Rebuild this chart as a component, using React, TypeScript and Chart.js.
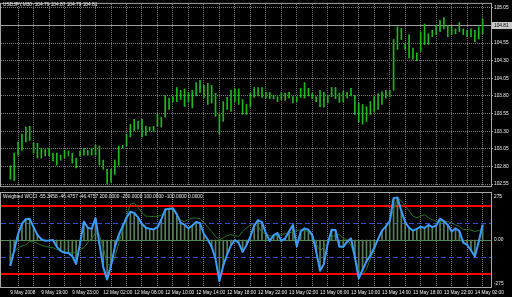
import React, { useEffect, useRef } from 'react';
import { Chart, registerables } from 'chart.js';

Chart.register(...registerables);

// ---------- data ----------
const priceTitle = 'USDJPY,M30  104.79 104.87 104.79 104.81';
const cciTitle = 'Weighted WCCI -55.3458 -46.4757 -46.4757 200.0000 -200.0000 100.0000 -100.0000 0.0000';

const timeLabels = [
  '9 May 2008', '9 May 19:00', '9 May 23:00', '12 May 02:00', '12 May 06:00', '12 May 10:00',
  '12 May 14:00', '12 May 18:00', '12 May 22:00', '13 May 02:00', '13 May 06:00', '13 May 10:00',
  '13 May 14:00', '13 May 18:00', '13 May 22:00', '14 May 02:00',
];

const priceTicks = [102.55, 102.8, 103.05, 103.3, 103.55, 103.8, 104.05, 104.3, 104.55, 104.8, 105.05];
const currentPrice = 104.81;

const barHigh = [
  102.81, 102.99, 103.15, 103.26, 103.36, 103.37, 103.13, 103.13, 103.06, 103.04,
  103.06, 102.99, 102.99, 102.96, 103.03, 103.02, 102.99, 102.92, 103.02, 103.06,
  103.03, 103.06, 103.10, 103.09, 102.89, 102.76, 102.76, 102.89, 103.09, 103.10,
  103.26, 103.40, 103.47, 103.44, 103.47, 103.37, 103.36, 103.37, 103.54, 103.50,
  103.81, 103.77, 103.79, 103.92, 103.88, 103.90, 103.85, 103.88, 103.99, 104.02,
  103.95, 103.98, 103.95, 103.84, 103.54, 103.72, 103.78, 103.88, 103.90, 103.90,
  103.75, 103.68, 103.84, 103.92, 103.92, 103.92, 103.85, 103.85, 103.81, 103.79,
  103.85, 103.84, 103.85, 103.79, 103.79, 103.91, 103.99, 103.91, 103.84, 103.79,
  103.88, 103.85, 103.81, 103.92, 103.92, 103.84, 103.87, 103.85, 103.91, 103.81,
  103.70, 103.68, 103.65, 103.72, 103.79, 103.83, 103.86, 103.88, 103.88, 104.60,
  104.78, 104.76, 104.54, 104.67, 104.48, 104.41, 104.71, 104.82, 104.68, 104.73,
  104.80, 104.87, 104.91, 104.80, 104.78, 104.75, 104.84, 104.75, 104.73, 104.75,
  104.73, 104.78, 104.89,
];

const barLow = [
  102.62, 102.60, 102.96, 103.03, 103.15, 103.17, 102.99, 102.92, 102.92, 102.95,
  102.95, 102.88, 102.82, 102.89, 102.92, 102.95, 102.85, 102.78, 102.95, 102.96,
  102.96, 102.96, 102.96, 102.82, 102.76, 102.55, 102.58, 102.69, 102.82, 103.06,
  103.09, 103.22, 103.31, 103.33, 103.22, 103.24, 103.31, 103.29, 103.37, 103.36,
  103.50, 103.61, 103.72, 103.72, 103.75, 103.65, 103.72, 103.63, 103.80, 103.85,
  103.78, 103.68, 103.70, 103.51, 103.26, 103.44, 103.61, 103.58, 103.72, 103.68,
  103.54, 103.54, 103.64, 103.78, 103.80, 103.78, 103.77, 103.76, 103.76, 103.72,
  103.75, 103.74, 103.77, 103.70, 103.72, 103.78, 103.77, 103.80, 103.76, 103.72,
  103.65, 103.64, 103.70, 103.79, 103.76, 103.71, 103.72, 103.77, 103.80, 103.54,
  103.43, 103.40, 103.44, 103.54, 103.58, 103.61, 103.68, 103.77, 103.79, 103.88,
  104.46, 104.60, 104.46, 104.34, 104.32, 104.30, 104.43, 104.53, 104.53, 104.64,
  104.67, 104.71, 104.75, 104.64, 104.67, 104.68, 104.71, 104.67, 104.64, 104.64,
  104.57, 104.61, 104.68,
];

const wcci = [
  -150, -60, 35, 95, 122, 124, 75, 30, 5, -5,
  -3, 0, -40, -64, -75, -76, -95, -140, -20, 108,
  72, 65, 128, -20, -160, -231, -150, -40, 30, 80,
  130, 165, 158, 132, 95, 72, 66, 62, 75, 120,
  178, 183, 185, 150, 100, 90, 68, 85, 106, 98,
  35, 2, -40, -110, -240, -150, -85, -30, 0, -18,
  -70, -30, 20, 85, 116, 105, 40, -5, 28, 40,
  -5, 10, 50, 88, -37, 50, 68, 60, 30, -66,
  -180, -140, -20, 60, 58, -40, -40, -10, 10, -100,
  -225, -175, -125, -90, -45, 5, 55, 80, 110, 245,
  248, 170, 105, 72, 55, 65, 78, 70, 88, 75,
  85, 125, 110, 88, 50, 68, 52, -15, -28, -60,
  -96, -10, 89,
];

const wcciSlow = [
  -96, -70, -45, -35, -27, -10, -10, -20, -30, -37,
  -42, -45, -55, -65, -74, -75, -74, -70, -55, -45,
  -15, 10, 40, 30, -45, -140, -150, -100, -20, 60,
  140, 210, 217, 190, 160, 140, 138, 138, 138, 145,
  170, 185, 185, 150, 115, 108, 120, 128, 128, 125,
  101, 75, 50, 20, 2, 12, 25, 31, 25, 21,
  50, 70, 89, 88, 80, 45, 35, 25, 21, 28,
  31, 38, 41, 48, 55, 60, 55, 50, 20, -20,
  -66, -40, -17, 15, 31, 31, 10, 2, -30, -100,
  -180, -200, -173, -110, -60, 12, 50, 80, 110, 180,
  245, 230, 200, 170, 140, 130, 140, 148, 130, 118,
  110, 108, 108, 108, 100, 89, 80, 62, 60, 58,
  50, 55, 70,
];

const redLevels = [200, -200];
const blueLevels = [100, -100];
const zeroLevel = [0];
const cciAxisLabels = [275, 0, -275];

// ---------- axis ranges ----------
const X_MIN = -0.375;
const X_MAX = 122.125;
const P_MIN = 102.5225;
const P_MAX = 105.105;
const C_MIN = -275;
const C_MAX = 275;

const gridTicks: number[] = [];
for (let i = 0; i <= 120; i += 4) gridTicks.push(i);

// ---------- styles ----------
const FAMILY = '"Liberation Sans", Arial, sans-serif';
const FS = 4.8;
const TEXT = '#f0f0f0';
const GRID = '#7c7c7c';
const FRAME = '#a8a8a8';
const BAR = '#1cb81c';

Chart.defaults.font.family = FAMILY;

function xScale(showLabels: boolean): any {
  return {
    type: 'linear',
    min: X_MIN,
    max: X_MAX,
    afterBuildTicks: (s: any) => {
      s.ticks = gridTicks.map((v) => ({ value: v }));
    },
    afterFit: (s: any) => {
      s.height = showLabels ? 10 : 0;
      s.paddingLeft = 0;
      s.paddingRight = 0;
    },
    ticks: {
      display: showLabels,
      autoSkip: false,
      maxRotation: 0,
      minRotation: 0,
      align: 'start',
      padding: 2.5,
      color: TEXT,
      font: { family: FAMILY, size: FS },
      callback: (v: number) => (v % 8 === 0 ? timeLabels[v / 8] ?? '' : ''),
    },
    grid: {
      color: (ctx: any) => (ctx.tick && ctx.tick.value === 0 ? 'rgba(0,0,0,0)' : GRID),
      drawTicks: false,
      lineWidth: 1,
    },
    border: { display: false, dash: [1, 1] },
  };
}

function drawFrame(chart: any) {
  const { ctx, chartArea: a } = chart;
  ctx.save();
  ctx.strokeStyle = FRAME;
  ctx.lineWidth = 1;
  ctx.strokeRect(a.left - 0.5, a.top - 0.5, a.right - a.left + 1, a.bottom - a.top + 1);
  ctx.restore();
}

function drawTitle(chart: any, text: string, y: number) {
  const { ctx } = chart;
  ctx.save();
  ctx.fillStyle = TEXT;
  ctx.font = `${FS}px ${FAMILY}`;
  ctx.textBaseline = 'middle';
  ctx.textAlign = 'left';
  ctx.fillText(text, 3, y);
  ctx.restore();
}

const topPlugin = {
  id: 'mtTop',
  beforeDatasetsDraw(chart: any) {
    const { ctx, chartArea: a, scales } = chart;
    const y = Math.round(scales.y.getPixelForValue(currentPrice)) + 0.5;
    ctx.save();
    ctx.strokeStyle = '#a0a0a0';
    ctx.lineWidth = 1;
    ctx.beginPath();
    ctx.moveTo(a.left, y);
    ctx.lineTo(a.right, y);
    ctx.stroke();
    ctx.restore();
  },
  afterDraw(chart: any) {
    const { ctx, chartArea: a, scales } = chart;
    drawFrame(chart);
    drawTitle(chart, priceTitle, 5);
    const y = Math.round(scales.y.getPixelForValue(currentPrice));
    ctx.save();
    ctx.fillStyle = '#c8c8c8';
    ctx.fillRect(a.right + 1, y - 3, 21, 7);
    ctx.fillStyle = '#000000';
    ctx.font = `${FS}px ${FAMILY}`;
    ctx.textBaseline = 'middle';
    ctx.textAlign = 'left';
    ctx.fillText(currentPrice.toFixed(2), a.right + 3, y + 0.5);
    ctx.restore();
  },
};

const bottomPlugin = {
  id: 'mtBottom',
  beforeDatasetsDraw(chart: any) {
    const { ctx, chartArea: a, scales } = chart;
    const ys = scales.y;
    ctx.save();
    ctx.strokeStyle = '#4c8c4c';
    ctx.lineWidth = 1;
    zeroLevel.forEach((v) => {
      const y = Math.round(ys.getPixelForValue(v)) + 0.5;
      ctx.beginPath();
      ctx.moveTo(a.left, y);
      ctx.lineTo(a.right, y);
      ctx.stroke();
    });
    ctx.strokeStyle = '#3050c0';
    ctx.setLineDash([5, 3]);
    blueLevels.forEach((v) => {
      const y = Math.round(ys.getPixelForValue(v)) + 0.5;
      ctx.beginPath();
      ctx.moveTo(a.left, y);
      ctx.lineTo(a.right, y);
      ctx.stroke();
    });
    ctx.setLineDash([]);
    ctx.strokeStyle = '#ff0000';
    ctx.lineWidth = 2;
    redLevels.forEach((v) => {
      const y = Math.round(ys.getPixelForValue(v));
      ctx.beginPath();
      ctx.moveTo(a.left, y);
      ctx.lineTo(a.right, y);
      ctx.stroke();
    });
    ctx.restore();
  },
  afterDraw(chart: any) {
    const { ctx, chartArea: a, scales } = chart;
    drawFrame(chart);
    drawTitle(chart, cciTitle, 7);
    ctx.save();
    ctx.fillStyle = TEXT;
    ctx.font = `${FS}px ${FAMILY}`;
    ctx.textAlign = 'left';
    cciAxisLabels.forEach((v) => {
      const y = scales.y.getPixelForValue(v);
      let baseline = 'middle';
      let dy = 0;
      if (v >= C_MAX) { baseline = 'top'; dy = 1; }
      else if (v <= C_MIN) { baseline = 'bottom'; dy = -1; }
      ctx.textBaseline = baseline;
      ctx.fillText(v === 0 ? '0.00' : String(v), a.right + 3, y + dy);
    });
    ctx.restore();
  },
};

export default function App() {
  const topRef = useRef<HTMLCanvasElement>(null);
  const botRef = useRef<HTMLCanvasElement>(null);

  useEffect(() => {
    const top = new Chart(topRef.current as HTMLCanvasElement, {
      type: 'bar',
      data: {
        datasets: [
          {
            data: barLow.map((l, i) => ({ x: i, y: [l, barHigh[i]] })) as any,
            backgroundColor: BAR,
            borderWidth: 0,
            barThickness: 1,
          } as any,
        ],
      },
      options: {
        animation: false,
        responsive: false,
        events: [],
        layout: { padding: { left: 1, top: 1, right: 0, bottom: 1 } },
        plugins: { legend: { display: false }, tooltip: { enabled: false } },
        scales: {
          x: xScale(false),
          y: {
            type: 'linear',
            position: 'right',
            min: P_MIN,
            max: P_MAX,
            afterBuildTicks: (s: any) => {
              s.ticks = priceTicks.map((v) => ({ value: v }));
            },
            afterFit: (s: any) => {
              s.width = 21;
            },
            ticks: {
              color: TEXT,
              font: { family: FAMILY, size: FS },
              padding: 1,
              callback: (v: number) => (Math.abs(v - 104.8) < 1e-6 ? '' : v.toFixed(2)),
            },
            grid: { color: GRID, drawTicks: true, tickLength: 2, tickColor: FRAME },
            border: { display: false, dash: [1, 1] },
          } as any,
        },
      } as any,
      plugins: [topPlugin],
    });

    const bottom = new Chart(botRef.current as HTMLCanvasElement, {
      type: 'bar',
      data: {
        datasets: [
          {
            type: 'line',
            data: wcci.map((v, i) => ({ x: i, y: v })),
            borderColor: '#3a9cff',
            borderWidth: 2,
            pointRadius: 0,
            tension: 0,
            borderJoinStyle: 'round',
          } as any,
          {
            type: 'line',
            data: wcciSlow.map((v, i) => ({ x: i, y: v })),
            borderColor: '#267226',
            borderWidth: 1,
            pointRadius: 0,
            tension: 0,
          } as any,
          {
            type: 'bar',
            data: wcci.map((v, i) => ({ x: i, y: v })),
            backgroundColor: '#587f58',
            borderWidth: 0,
            barThickness: 1,
          } as any,
        ],
      },
      options: {
        animation: false,
        responsive: false,
        events: [],
        layout: { padding: { left: 1, top: 3, right: 0, bottom: 0 } },
        plugins: { legend: { display: false }, tooltip: { enabled: false } },
        scales: {
          x: xScale(true),
          y: {
            type: 'linear',
            position: 'right',
            min: C_MIN,
            max: C_MAX,
            afterFit: (s: any) => {
              s.width = 21;
            },
            ticks: { display: false },
            grid: { display: false },
            border: { display: false },
          } as any,
        },
      } as any,
      plugins: [bottomPlugin],
    });

    return () => {
      top.destroy();
      bottom.destroy();
    };
  }, []);

  return (
    <div style={{ position: 'fixed', left: 0, top: 0, width: 512, height: 297, background: '#000', overflow: 'hidden' }}>
      <canvas ref={topRef} width={512} height={190} style={{ position: 'absolute', left: 0, top: 0, width: 512, height: 190 }} />
      <canvas ref={botRef} width={512} height={107} style={{ position: 'absolute', left: 0, top: 190, width: 512, height: 107 }} />
    </div>
  );
}
